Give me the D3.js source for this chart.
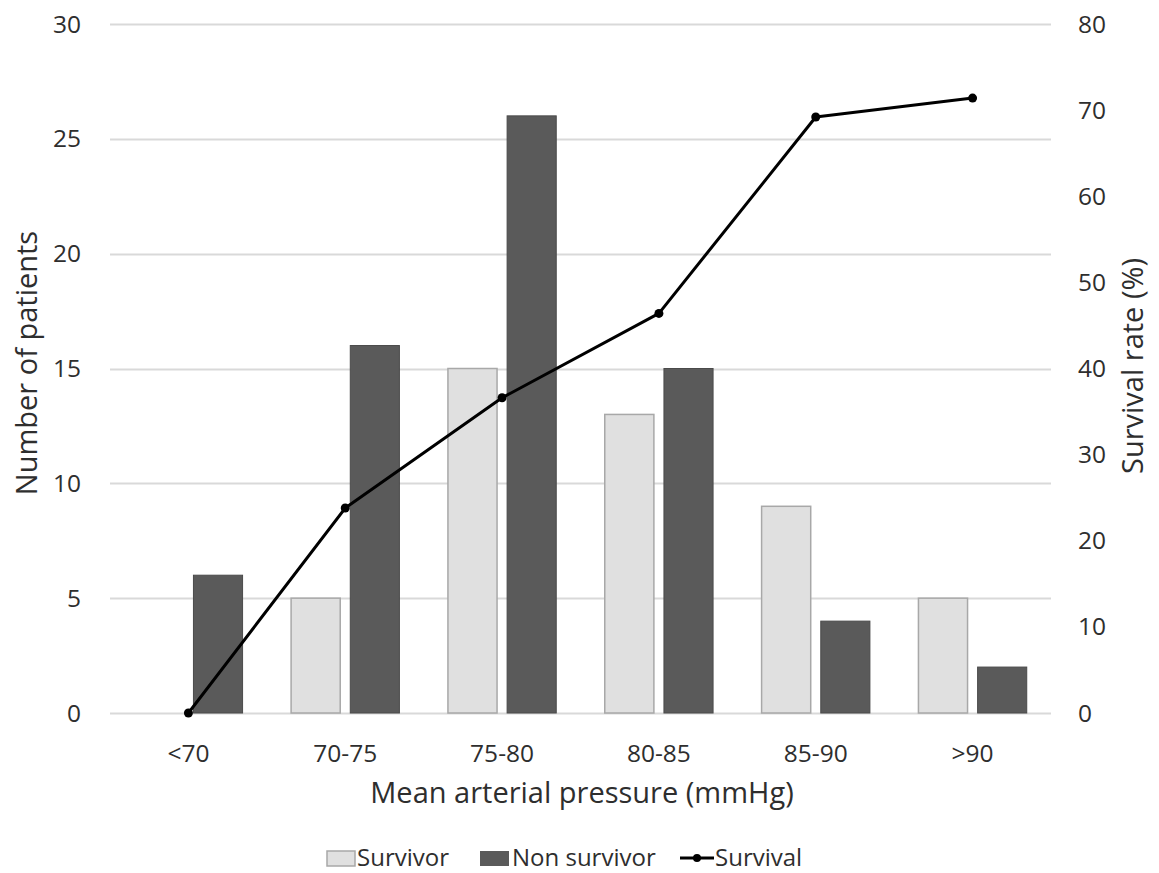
<!DOCTYPE html>
<html lang="en">
  <head>
    <meta charset="UTF-8" />
    <title>Mean arterial pressure</title>
    <style>
      body {
        margin: 0;
        background: #fff;
        font-family: "Open Sans", sans-serif;
      }
      .tick-label {
        font-size: 24.5px;
        fill: #2e2e2e;
      }
      .axis-title {
        font-size: 29px;
        fill: #2e2e2e;
      }
      .legend-label {
        font-size: 24px;
        fill: #2e2e2e;
      }
    </style>
  </head>
  <body>
    <div class="svg-container"></div>
    <script src="https://d3js.org/d3.v7.min.js"></script>
    <script>
      // data
      var categories = ["<70", "70-75", "75-80", "80-85", "85-90", ">90"];
      var survivors = [0, 5, 15, 13, 9, 5];
      var nonSurvivors = [6, 16, 26, 15, 4, 2];
      var survivalRate = [0, 23.8, 36.6, 46.4, 69.2, 71.4];
      var leftTicks = [0, 5, 10, 15, 20, 25, 30];
      var rightTicks = [0, 10, 20, 30, 40, 50, 60, 70, 80];

      var fullWidth = 1159,
        fullHeight = 873;
      var margin = { top: 24, right: 108, bottom: 160, left: 110 },
        width = fullWidth - margin.left - margin.right,
        height = fullHeight - margin.top - margin.bottom;

      var svg = d3
        .select(".svg-container")
        .append("svg")
        .attr("width", fullWidth)
        .attr("height", fullHeight);

      var g = svg
        .append("g")
        .attr("transform", "translate(" + margin.left + "," + margin.top + ")");

      var x0 = d3.scaleBand().domain(categories).range([0, width]);
      var x1 = d3
        .scaleBand()
        .domain(["survivor", "non"])
        .range([0, x0.bandwidth()])
        .paddingInner(0.17)
        .paddingOuter(0.41);
      var yLeft = d3.scaleLinear().domain([0, 30]).range([height, 0]);
      var yRight = d3.scaleLinear().domain([0, 80]).range([height, 0]);

      // gridlines
      g.append("g")
        .selectAll("line")
        .data(leftTicks)
        .enter()
        .append("line")
        .attr("x1", 0)
        .attr("x2", width)
        .attr("y1", (d) => Math.round(yLeft(d)) + 0.5)
        .attr("y2", (d) => Math.round(yLeft(d)) + 0.5)
        .attr("stroke", "#d9d9d9")
        .attr("stroke-width", 2);

      // left tick labels
      g.append("g")
        .selectAll("text")
        .data(leftTicks)
        .enter()
        .append("text")
        .attr("class", "tick-label")
        .attr("x", -29)
        .attr("y", (d) => yLeft(d))
        .attr("dy", "0.35em")
        .attr("text-anchor", "end")
        .text((d) => d);

      // right tick labels
      g.append("g")
        .selectAll("text")
        .data(rightTicks)
        .enter()
        .append("text")
        .attr("class", "tick-label")
        .attr("x", width + 27)
        .attr("y", (d) => yRight(d))
        .attr("dy", "0.35em")
        .attr("text-anchor", "start")
        .text((d) => d);

      // category labels
      g.append("g")
        .selectAll("text")
        .data(categories)
        .enter()
        .append("text")
        .attr("class", "tick-label")
        .attr("x", (d) => x0(d) + x0.bandwidth() / 2)
        .attr("y", height + 49)
        .attr("text-anchor", "middle")
        .text((d) => d);

      // bars
      var groups = g
        .selectAll(".cat")
        .data(categories)
        .enter()
        .append("g")
        .attr("class", "cat")
        .attr("transform", (d) => "translate(" + x0(d) + ",0)");

      groups
        .append("rect")
        .attr("x", x1("survivor"))
        .attr("y", (d, i) => yLeft(survivors[i]))
        .attr("width", x1.bandwidth())
        .attr("height", (d, i) => height - yLeft(survivors[i]))
        .attr("fill", "#e0e0e0")
        .attr("stroke", (d, i) => (survivors[i] > 0 ? "#a8a8a8" : "none"))
        .attr("stroke-width", 1.5);

      groups
        .append("rect")
        .attr("x", x1("non"))
        .attr("y", (d, i) => yLeft(nonSurvivors[i]))
        .attr("width", x1.bandwidth())
        .attr("height", (d, i) => height - yLeft(nonSurvivors[i]))
        .attr("fill", "#5a5a5a")
        .attr("stroke", "#4a4a4a")
        .attr("stroke-width", 1);

      // survival line
      var line = d3
        .line()
        .x((d, i) => x0(categories[i]) + x0.bandwidth() / 2)
        .y((d) => yRight(d));

      g.append("path")
        .datum(survivalRate)
        .attr("fill", "none")
        .attr("stroke", "#000")
        .attr("stroke-width", 3)
        .attr("stroke-linejoin", "round")
        .attr("d", line);

      g.append("g")
        .selectAll("circle")
        .data(survivalRate)
        .enter()
        .append("circle")
        .attr("cx", (d, i) => x0(categories[i]) + x0.bandwidth() / 2)
        .attr("cy", (d) => yRight(d))
        .attr("r", 4.5)
        .attr("fill", "#000");

      // axis titles
      svg
        .append("text")
        .attr("class", "axis-title")
        .attr("x", 582)
        .attr("y", 803)
        .attr("text-anchor", "middle")
        .text("Mean arterial pressure (mmHg)");

      svg
        .append("text")
        .attr("class", "axis-title")
        .attr("transform", "translate(37,363) rotate(-90)")
        .attr("text-anchor", "middle")
        .text("Number of patients");

      svg
        .append("text")
        .attr("class", "axis-title")
        .attr("transform", "translate(1143,366) rotate(-90)")
        .attr("text-anchor", "middle")
        .text("Survival rate (%)");

      // legend
      var legend = svg.append("g").attr("transform", "translate(0,858)");

      legend
        .append("rect")
        .attr("x", 327)
        .attr("y", -7)
        .attr("width", 28)
        .attr("height", 15)
        .attr("fill", "#e0e0e0")
        .attr("stroke", "#a8a8a8")
        .attr("stroke-width", 1.5);
      legend
        .append("text")
        .attr("class", "legend-label")
        .attr("x", 357)
        .attr("dy", "0.35em")
        .text("Survivor");

      legend
        .append("rect")
        .attr("x", 480)
        .attr("y", -7)
        .attr("width", 29)
        .attr("height", 15)
        .attr("fill", "#5a5a5a");
      legend
        .append("text")
        .attr("class", "legend-label")
        .attr("x", 512)
        .attr("dy", "0.35em")
        .text("Non survivor");

      legend
        .append("line")
        .attr("x1", 680)
        .attr("x2", 714)
        .attr("stroke", "#000")
        .attr("stroke-width", 3);
      legend
        .append("circle")
        .attr("cx", 697)
        .attr("r", 4)
        .attr("fill", "#000");
      legend
        .append("text")
        .attr("class", "legend-label")
        .attr("x", 715)
        .attr("dy", "0.35em")
        .text("Survival");
    </script>
  </body>
</html>
